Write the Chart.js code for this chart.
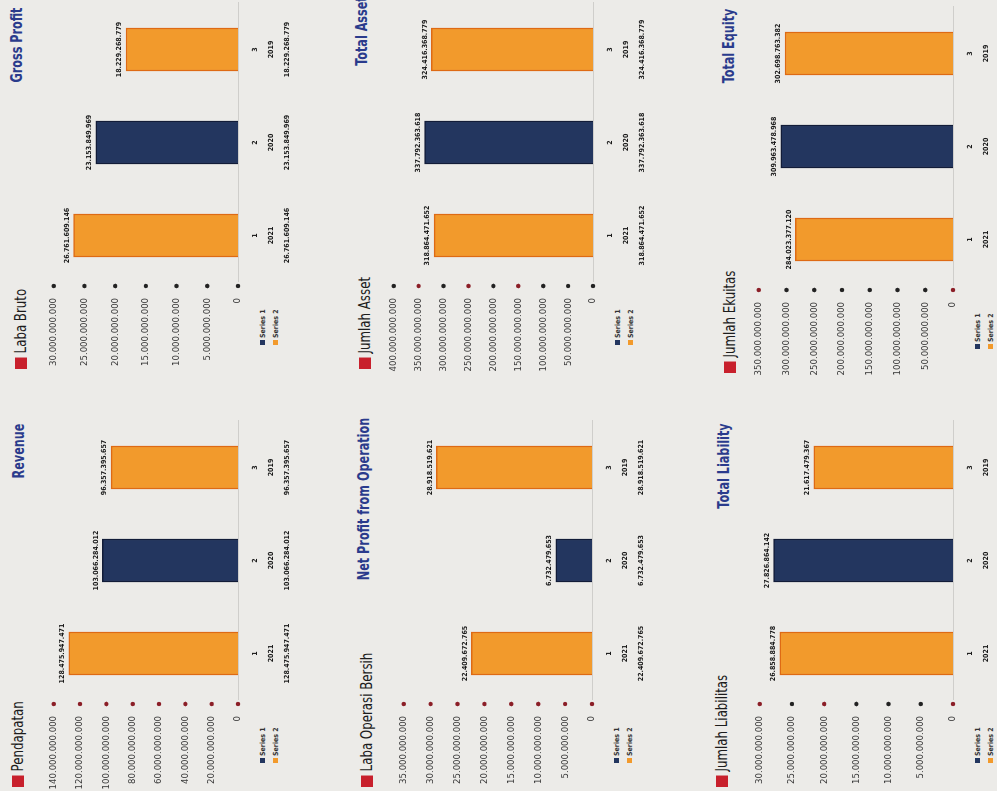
<!DOCTYPE html>
<html lang="id">
<head>
<meta charset="UTF-8">
<title>Ringkasan Keuangan</title>
<script src="https://cdn.jsdelivr.net/npm/chart.js"></script>
<style>
    body {
        margin: 0;
        width: 997px;
        height: 791px;
        overflow: hidden;
        background: #ecebe8;
        font-family: "DejaVu Sans Condensed", "Liberation Sans", sans-serif;
    }
    /* halaman disusun tegak lalu diputar seperti hasil scan */
    #halaman {
        position: absolute;
        left: 0;
        top: 0;
        width: 791px;
        height: 997px;
        transform-origin: 0 0;
        transform: translate(0, 791px) rotate(-90deg);
    }
    .judul {
        position: absolute;
        color: #2a3b8c;
        font-weight: bold;
        font-size: 16px;
        white-space: nowrap;
        transform: translateX(-50%) scaleX(0.78);
    }
    .label {
        position: absolute;
        font-size: 16px;
        color: #1c1c1c;
        white-space: nowrap;
        transform-origin: 0 50%;
        transform: scaleX(0.82);
    }
    .label span {
        display: inline-block;
        width: 14px;
        height: 12px;
        background: #c8202c;
        margin-right: 5px;
        vertical-align: -1px;
    }
    canvas {
        position: absolute;
    }
    .legenda {
        position: absolute;
        font-size: 7px;
        font-weight: bold;
        color: #333;
        line-height: 13px;
        white-space: nowrap;
    }
    .legenda i {
        display: inline-block;
        width: 5px;
        height: 5px;
        margin-right: 2px;
    }
</style>
</head>
<body>
<div id="halaman"></div>

<script>
    // data per tahun (urutan 1, 2, 3)
    var kategori = ['1', '2', '3'];
    var tahun = ['2021', '2020', '2019'];

    var pendapatan = [128475947471, 103066284012, 96357395657];
    var labaBruto = [26761609146, 23153849969, 18229268779];
    var labaOperasi = [22409672765, 6732479653, 28918519621];
    var jumlahAsset = [318864471652, 337792363618, 324416368779];
    var jumlahLiabilitas = [26858884778, 27826864142, 21617479367];
    var jumlahEkuitas = [284023377120, 309963478968, 302698763382];

    // sumbu y: [min, max, step]
    var sumbuPendapatan = [0, 140000000000, 20000000000];
    var sumbuLabaBruto = [0, 30000000000, 5000000000];
    var sumbuLabaOperasi = [0, 35000000000, 5000000000];
    var sumbuAsset = [0, 400000000000, 50000000000];
    var sumbuLiabilitas = [0, 30000000000, 5000000000];
    var sumbuEkuitas = [0, 350000000000, 50000000000];

    var ORANYE = '#f29a2c';
    var ORANYE_TEPI = '#de6a14';
    var BIRU = '#23365f';
    var BIRU_TEPI = '#121c38';
    var MERAH = '#8b1e27';
    var HITAM = '#222222';

    Chart.defaults.font.family = '"DejaVu Sans Condensed", "Liberation Sans", sans-serif';
    Chart.defaults.color = '#333';

    function formatAngka(v) {
        return String(v).replace(/\B(?=(\d{3})+(?!\d))/g, '.');
    }

    // angka di atas tiap batang
    var labelNilai = {
        id: 'labelNilai',
        afterDatasetsDraw: function (chart) {
            var ctx = chart.ctx;
            var data = chart.data.datasets[0].data;
            ctx.save();
            ctx.font = 'bold 7px ' + Chart.defaults.font.family;
            ctx.fillStyle = '#1a1a1a';
            ctx.textAlign = 'center';
            ctx.textBaseline = 'bottom';
            chart.getDatasetMeta(0).data.forEach(function (bar, i) {
                ctx.fillText(formatAngka(data[i]), bar.x, bar.y - 3);
            });
            ctx.restore();
        }
    };

    // titik kecil di setiap tick sumbu y
    var titikSumbu = {
        id: 'titikSumbu',
        afterDraw: function (chart, args, opts) {
            var sumbu = chart.scales.y;
            var ctx = chart.ctx;
            ctx.save();
            sumbu.ticks.forEach(function (t, i) {
                ctx.beginPath();
                ctx.fillStyle = opts.warna[i % opts.warna.length];
                ctx.arc(chart.chartArea.left - 4, sumbu.getPixelForTick(i), 2.2, 0, Math.PI * 2);
                ctx.fill();
            });
            ctx.restore();
        }
    };

    var panel = [
        { label: 'Pendapatan', judul: 'Revenue', data: pendapatan, sumbu: sumbuPendapatan,
          x: 0, atas: 52, nol: 238, judulX: 340, judulAtas: 9, labelAtas: 8, titik: [MERAH] },
        { label: 'Laba Bruto', judul: 'Gross Profit', data: labaBruto, sumbu: sumbuLabaBruto,
          x: 418, atas: 52, nol: 238, judulX: 746, judulAtas: 7, labelAtas: 11, titik: [HITAM] },
        { label: 'Laba Operasi Bersih', judul: 'Net Profit from Operation', data: labaOperasi, sumbu: sumbuLabaOperasi,
          x: 0, atas: 402, nol: 592, judulX: 292, judulAtas: 354, labelAtas: 357, titik: [MERAH] },
        { label: 'Jumlah Asset', judul: 'Total Asset', data: jumlahAsset, sumbu: sumbuAsset,
          x: 418, atas: 392, nol: 593, judulX: 760, judulAtas: 352, labelAtas: 355,
          titik: [HITAM, HITAM, HITAM, MERAH, HITAM, MERAH, HITAM, MERAH, HITAM] },
        { label: 'Jumlah Liabilitas', judul: 'Total Liability', data: jumlahLiabilitas, sumbu: sumbuLiabilitas,
          x: 0, atas: 758, nol: 953, judulX: 325, judulAtas: 714, labelAtas: 712,
          titik: [MERAH, HITAM, HITAM, HITAM, MERAH, HITAM, MERAH] },
        { label: 'Jumlah Ekuitas', judul: 'Total Equity', data: jumlahEkuitas, sumbu: sumbuEkuitas,
          x: 414, atas: 757, nol: 953, judulX: 745, judulAtas: 719, labelAtas: 720,
          titik: [MERAH, HITAM, HITAM, HITAM, HITAM, HITAM, HITAM, MERAH] }
    ];

    function buatPanel(p) {
        var halaman = document.getElementById('halaman');

        var label = document.createElement('div');
        label.className = 'label';
        label.style.left = (p.x + 4) + 'px';
        label.style.top = p.labelAtas + 'px';
        label.innerHTML = '<span></span>' + p.label;
        halaman.appendChild(label);

        var judul = document.createElement('div');
        judul.className = 'judul';
        judul.style.left = p.judulX + 'px';
        judul.style.top = p.judulAtas + 'px';
        judul.textContent = p.judul;
        halaman.appendChild(judul);

        var legenda = document.createElement('div');
        legenda.className = 'legenda';
        legenda.style.left = (p.x + 28) + 'px';
        legenda.style.top = (p.nol + 19) + 'px';
        legenda.innerHTML = '<i style="background:' + BIRU + '"></i>Series 1<br>' +
            '<i style="background:' + ORANYE + '"></i>Series 2';
        halaman.appendChild(legenda);

        var canvas = document.createElement('canvas');
        canvas.width = 375;
        canvas.height = 12 + (p.nol - p.atas) + 52;
        canvas.style.left = p.x + 'px';
        canvas.style.top = (p.atas - 12) + 'px';
        halaman.appendChild(canvas);

        var labels = kategori.map(function (k, i) {
            return [k, tahun[i], formatAngka(p.data[i])];
        });

        new Chart(canvas, {
            type: 'bar',
            data: {
                labels: labels,
                datasets: [{
                    label: p.label,
                    data: p.data,
                    backgroundColor: [ORANYE, BIRU, ORANYE],
                    borderColor: [ORANYE_TEPI, BIRU_TEPI, ORANYE_TEPI],
                    borderWidth: 1.5,
                    barThickness: 43
                }]
            },
            options: {
                responsive: false,
                animation: false,
                layout: { padding: { top: 12, right: 5, left: 0, bottom: 0 } },
                plugins: {
                    legend: { display: false },
                    tooltip: { enabled: false },
                    titikSumbu: { warna: p.titik }
                },
                scales: {
                    x: {
                        grid: { display: false },
                        border: { display: true, color: 'rgba(0,0,0,0.12)' },
                        ticks: {
                            autoSkip: false,
                            maxRotation: 0,
                            padding: 1,
                            color: '#1a1a1a',
                            font: { size: 7, weight: 'bold', lineHeight: '16px' }
                        },
                        afterFit: function (s) { s.height = 52; }
                    },
                    y: {
                        min: p.sumbu[0],
                        max: p.sumbu[1],
                        grid: { display: false },
                        border: { display: false },
                        ticks: {
                            stepSize: p.sumbu[2],
                            padding: 8,
                            color: '#3a3a3a',
                            font: { size: 9.5 },
                            callback: function (v) { return formatAngka(v); }
                        },
                        afterFit: function (s) { s.width = 91; }
                    }
                }
            },
            plugins: [labelNilai, titikSumbu]
        });
    }

    panel.forEach(buatPanel);
</script>
</body>
</html>
